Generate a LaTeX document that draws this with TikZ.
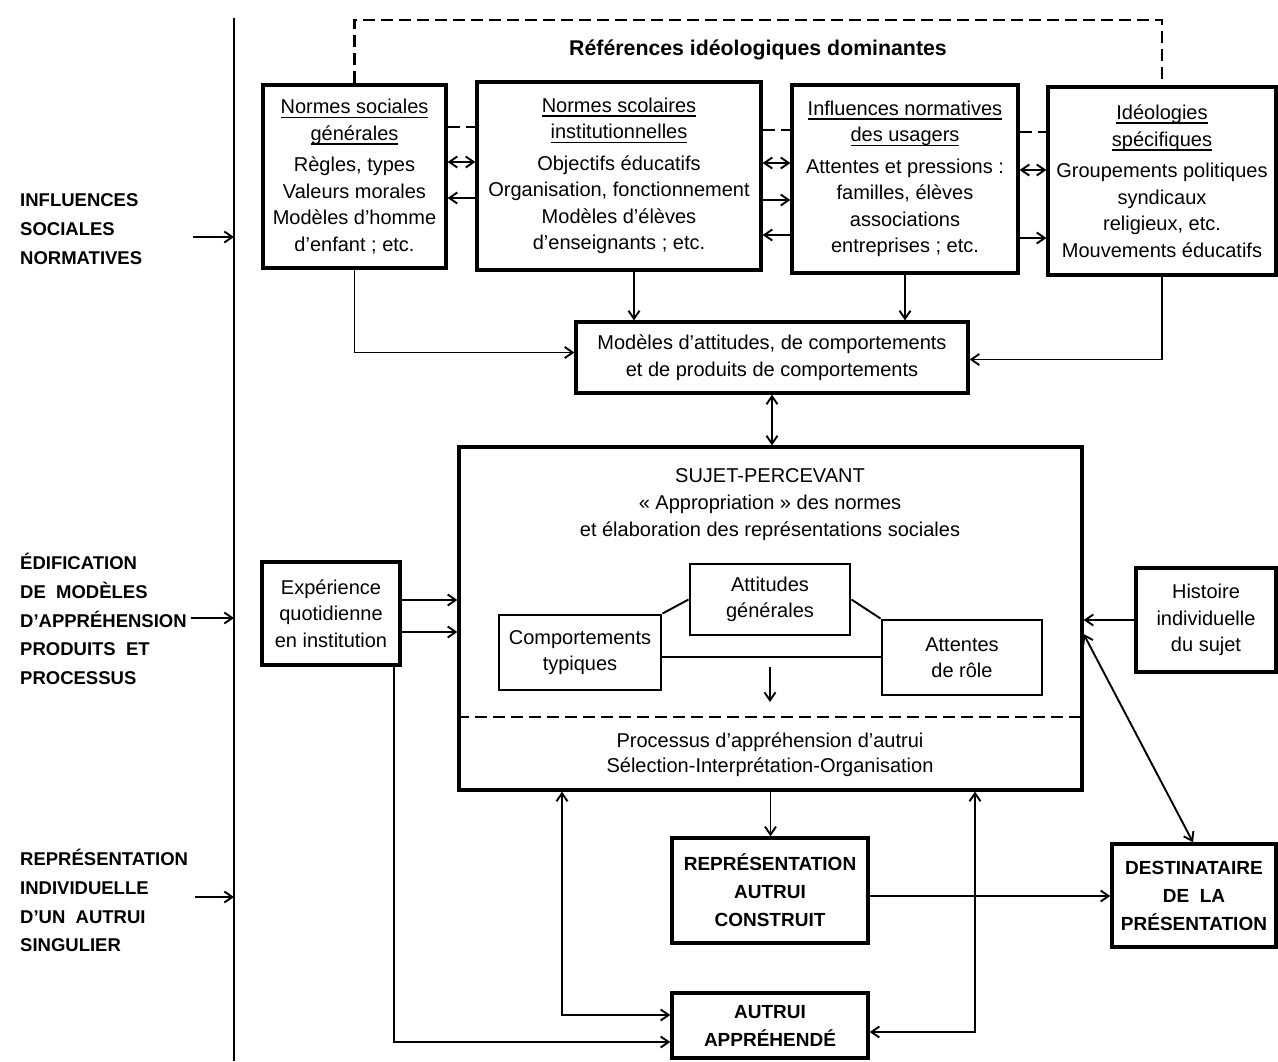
\documentclass[tikz,border=0pt]{standalone}
\usepackage{fontspec}
\setmainfont{Liberation Sans}
\newcommand{\myul}[1]{\setbox0\hbox{#1}\rlap{\rule[-4.5pt]{\wd0}{1.6pt}}\box0}
\usetikzlibrary{arrows.meta,calc}
\tikzset{
 box/.style={draw, line width=3.2pt, align=center, inner sep=2pt, font=\fontsize{20}{26.5}\selectfont},
 ibox/.style={draw, line width=2.9pt, align=center, inner sep=2pt, font=\fontsize{20}{26}\selectfont},
 cbox/.style={draw, line width=3.4pt, align=center, inner sep=2pt, font=\bfseries\fontsize{19}{28}\selectfont},
 conn/.style={line width=1.9pt, >={Straight Barb[length=8pt,width=11pt]}},
 thin/.style={line width=1.9pt},
 dline/.style={line width=2.8pt, dash pattern=on 12pt off 6pt},
 lab/.style={anchor=west, align=left, inner sep=0pt, font=\bfseries\fontsize{18.5}{28.8}\selectfont},
 txt/.style={align=center, inner sep=0pt, font=\fontsize{20}{27}\selectfont},
}
\begin{document}
\begin{tikzpicture}[x=1pt,y=-1pt]
\useasboundingbox (0,0) rectangle (1278,1061);
% spine
\coordinate (spT) at (234,18);
\coordinate (spB) at (234,1061);
\draw[line width=2.8pt] (spT) -- (spB);
% left labels
\node[lab] (l1) at (20,229) {INFLUENCES\\SOCIALES\\NORMATIVES};
\node[lab] (l2) at (20,619) {ÉDIFICATION\\DE\ \ MODÈLES\\D’APPRÉHENSION\\PRODUITS\ \ ET\\PROCESSUS};
\node[lab] (l3) at (20,900.5) {REPRÉSENTATION\\INDIVIDUELLE\\D’UN\ \ AUTRUI\\SINGULIER};
\coordinate (a1) at (193,237);
\coordinate (a2) at (191,618);
\coordinate (a3) at (195,897);
\draw[conn,->] (a1) -- (a1 -| spT);
\draw[conn,->] (a2) -- (a2 -| spT);
\draw[conn,->] (a3) -- (a3 -| spT);
% title
\node[inner sep=0pt, font=\bfseries\fontsize{21.3}{24}\selectfont] (ttl) at (758,50) {Références idéologiques dominantes};
% top boxes
\node[box, minimum width=183pt, minimum height=183pt] (b1) at (354.5,176.5)
 {\myul{Normes sociales}\\\myul{générales}\\[5pt]Règles, types\\Valeurs morales\\Modèles d’homme\\d’enfant ; etc.};
\node[box, minimum width=284pt, minimum height=188pt] (b2) at (619,176)
 {\myul{Normes scolaires}\\\myul{institutionnelles}\\[5pt]Objectifs éducatifs\\Organisation, fonctionnement\\Modèles d’élèves\\d’enseignants ; etc.};
\node[box, minimum width=226pt, minimum height=188pt] (b3) at (905,179)
 {\myul{Influences normatives}\\\myul{des usagers}\\[5pt]Attentes et pressions :\\familles, élèves\\associations\\entreprises ; etc.};
\node[box, minimum width=228pt, minimum height=188pt] (b4) at (1162,181)
 {\myul{Idéologies}\\\myul{spécifiques}\\[5pt]Groupements politiques\\syndicaux\\religieux, etc.\\Mouvements éducatifs};
% dashed frame
\draw[dline] (b1.north) -- (b1.north |- 0,20) -- (b4.north |- 0,20) -- (b4.north);
\draw[dline] (b1.east |- 0,127) -- (b2.west |- 0,127);
\draw[dline] (b2.east |- 0,130) -- (b3.west |- 0,130);
\draw[dline] (b3.east |- 0,132) -- (b4.west |- 0,132);
% arrows between top boxes
\draw[conn,<->] (b1.east |- 0,162) -- (b2.west |- 0,162);
\draw[conn,->] (b2.west |- 0,198) -- (b1.east |- 0,198);
\draw[conn,<->] (b2.east |- 0,163) -- (b3.west |- 0,163);
\draw[conn,->] (b2.east |- 0,200) -- (b3.west |- 0,200);
\draw[conn,->] (b3.west |- 0,235) -- (b2.east |- 0,235);
\draw[conn,<->] (b3.east |- 0,170) -- (b4.west |- 0,170);
\draw[conn,->] (b3.east |- 0,238) -- (b4.west |- 0,238);
% models
\node[box, minimum width=392pt, minimum height=71pt] (mod) at (772,357.5)
 {Modèles d’attitudes, de comportements\\et de produits de comportements};
\draw[conn,->] (b1.south) |- ($(mod.west)+(0,-5)$);
\draw[conn,->] (634,0 |- b2.south) -- (634,0 |- mod.north);
\draw[conn,->] (b3.south) -- (b3.south |- mod.north);
\draw[conn,->] (b4.south) |- ($(mod.east)+(0,2)$);
% sujet
\node[draw, line width=3.2pt, minimum width=623pt, minimum height=343pt] (suj) at (770.5,618.5) {};
\node[txt] (sujt) at (770,505) {SUJET-PERCEVANT\\« Appropriation » des normes\\et élaboration des représentations sociales};
\draw[dline] (suj.west |- 0,717) -- (suj.east |- 0,717);
\node[txt, font=\fontsize{20}{25}\selectfont] (proc) at (770,754.5) {Processus d’appréhension d’autrui\\Sélection-Interprétation-Organisation};
\draw[conn,<->] (mod.south) -- (mod.south |- suj.north);
% inner boxes
\node[ibox, minimum width=160pt, minimum height=71pt] (att) at (770,599.5) {Attitudes\\générales};
\node[ibox, minimum width=162pt, minimum height=75pt] (comp) at (580,652.5) {Comportements\\typiques};
\node[ibox, minimum width=160pt, minimum height=75pt] (atr) at (962,657.5) {Attentes\\de rôle};
\draw[thin] (comp.north east) -- (att.west);
\draw[thin] (att.east) -- (atr.north west);
\draw[thin] (comp.east |- 0,657) -- (atr.west |- 0,657);
\coordinate (dA) at (770,667);
\coordinate (dB) at (770,702);
\draw[conn,->] (dA) -- (dB);
% experience & histoire
\node[box, minimum width=138pt, minimum height=103pt] (exp) at (331,613.5) {Expérience\\quotidienne\\en institution};
\draw[conn,->] (exp.east |- 0,600) -- (suj.west |- 0,600);
\draw[conn,->] (exp.east |- 0,632) -- (suj.west |- 0,632);
\node[box, minimum width=140pt, minimum height=104pt] (hist) at (1206,620) {Histoire\\individuelle\\du sujet};
\draw[conn,->] (hist.west) -- (hist.west -| suj.east);
% bottom boxes
\node[cbox, minimum width=196pt, minimum height=105pt] (rep) at (770,890.5) {REPRÉSENTATION\\AUTRUI\\CONSTRUIT};
\node[cbox, minimum width=164pt, minimum height=103pt] (dest) at (1194,895.5) {DESTINATAIRE\\DE\ \ LA\\PRÉSENTATION};
\node[cbox, minimum width=196pt, minimum height=65pt] (aut) at (770,1025.5) {AUTRUI\\APPRÉHENDÉ};
\draw[conn,->] (suj.south) -- (suj.south |- rep.north);
\draw[conn,->] (rep.east |- 0,896) -- (dest.west |- 0,896);
\draw[conn,<->] (suj.east |- 0,634) -- (1193,0 |- dest.north);
\draw[conn,<->] (562,0 |- suj.south) |- (aut.west |- 0,1015);
\draw[conn,<->] (975,0 |- suj.south) |- (aut.east |- 0,1032);
\draw[conn,->] (394,0 |- exp.south) |- (aut.west |- 0,1042);
\end{tikzpicture}
\end{document}
